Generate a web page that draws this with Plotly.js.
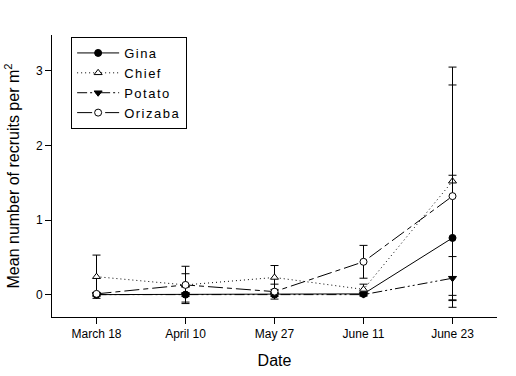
<!DOCTYPE html>
<html>
<head>
<meta charset="utf-8">
<script src="https://cdn.plot.ly/plotly-3.0.1.min.js"></script>
<style>
html,body{margin:0;padding:0;background:#fff;}
#chart{width:516px;height:376px;}
.legendtext{letter-spacing:1.5px;}
</style>
</head>
<body>
<div id="chart"></div>
<script>
const dates = ["March 18", "April 10", "May 27", "June 11", "June 23"];
const ginaMean = [0.0, 0.0, 0.0, 0.01, 0.76];
const ginaErr = [0.02, 0.1, 0.02, 0.02, 0.84];
const chiefMean = [0.24, 0.13, 0.23, 0.07, 1.52];
const chiefErr = [0.29, 0.15, 0.16, 0.07, 1.53];
const potatoMean = [0.0, 0.0, 0.0, 0.0, 0.22];
const potatoErr = [0.02, 0.02, 0.02, 0.02, 0.29];
const orizabaMean = [0.01, 0.13, 0.04, 0.44, 1.32];
const orizabaErr = [0.02, 0.25, 0.1, 0.22, 1.49];

function mk(name, y, err, symbol, dash, fill) {
  return {
    type: 'scatter', mode: 'lines+markers', name: name,
    x: dates, y: y,
    error_y: {type: 'data', array: err, visible: true, color: '#000', thickness: 1, width: 4},
    line: {color: '#000', width: 1, dash: dash},
    marker: {symbol: symbol, size: 7, color: fill, line: {color: '#000', width: 1}}
  };
}

const data = [
  mk('Gina', ginaMean, ginaErr, 'circle', 'solid', '#000'),
  mk('Chief', chiefMean, chiefErr, 'triangle-up', '1px,3px', '#fff'),
  mk('Potato', potatoMean, potatoErr, 'triangle-down', '10px,3px,2px,3px,2px,3px', '#000'),
  mk('Orizaba', orizabaMean, orizabaErr, 'circle', '15px,4px,5px,4px', '#fff')
];

const layout = {
  width: 516, height: 376,
  margin: {l: 52, r: 19, t: 35, b: 59},
  paper_bgcolor: '#fff', plot_bgcolor: '#fff',
  font: {family: 'Liberation Sans, Arial, sans-serif', color: '#000'},
  showlegend: true,
  legend: {
    x: 0.043, y: 0.993, xanchor: 'left', yanchor: 'top',
    bordercolor: '#000', borderwidth: 1, bgcolor: '#fff',
    font: {size: 13}, tracegroupgap: 0, itemwidth: 42,
    entrywidth: 125
  },
  xaxis: {
    type: 'category', range: [-0.5, 4.5],
    showline: true, linecolor: '#000', linewidth: 1,
    ticks: 'outside', ticklen: 6, tickcolor: '#000',
    showgrid: false, zeroline: false,
    tickfont: {size: 12},
    title: {text: 'Date', font: {size: 16}, standoff: 14}
  },
  yaxis: {
    range: [-0.3, 3.48],
    tickvals: [0, 1, 2, 3],
    showline: true, linecolor: '#000', linewidth: 1,
    ticks: 'outside', ticklen: 6, tickcolor: '#000',
    showgrid: false, zeroline: false,
    tickfont: {size: 12},
    title: {text: 'Mean number of recruits per m<sup>2</sup>', font: {size: 16}, standoff: 12}
  }
};

Plotly.newPlot('chart', data, layout, {displayModeBar: false, staticPlot: true});
</script>
</body>
</html>
